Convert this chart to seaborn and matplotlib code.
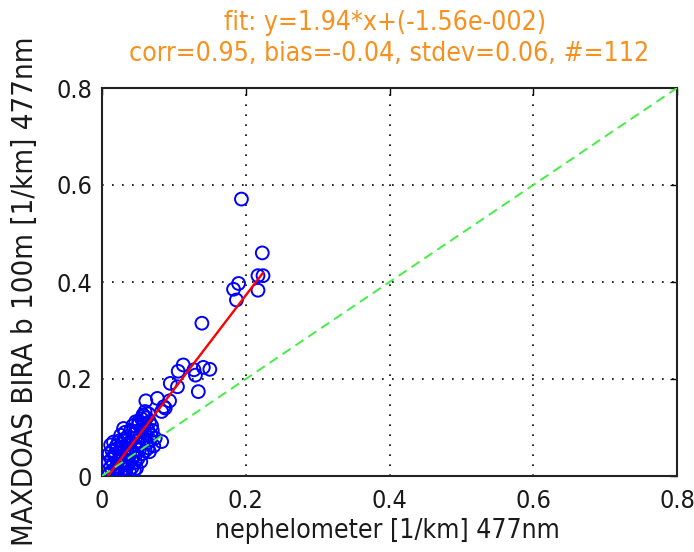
import numpy as np
import matplotlib
matplotlib.use("Agg")
import matplotlib.pyplot as plt
from matplotlib import font_manager
import seaborn as sns

# nephelometer extinction (x) vs MAXDOAS BIRA extinction at 100 m (y), 1/km at 477 nm
neph = [
    0.194, 0.223, 0.217, 0.224, 0.217, 0.190, 0.183, 0.187, 0.139,
    0.113, 0.106, 0.128, 0.141, 0.150, 0.130, 0.095, 0.105, 0.134,
    0.061, 0.077, 0.094, 0.086, 0.060, 0.083, 0.057, 0.088,
    0.051, 0.030, 0.083, 0.074, 0.048, 0.034, 0.032, 0.018,
    0.010, 0.014, 0.018, 0.022, 0.026, 0.038, 0.042, 0.012, 0.020, 0.030,
    0.009, 0.013, 0.016, 0.022, 0.025, 0.028, 0.033, 0.037, 0.041, 0.046, 0.050, 0.054,
    0.010, 0.014, 0.017, 0.021, 0.024, 0.027, 0.031, 0.035, 0.038, 0.043, 0.047, 0.052,
    0.056, 0.060, 0.064,
    0.012, 0.016, 0.020, 0.023, 0.027, 0.031, 0.034, 0.039, 0.043, 0.046, 0.050, 0.055,
    0.059, 0.063, 0.067,
    0.026, 0.032, 0.036, 0.040, 0.044, 0.048, 0.052, 0.056, 0.060, 0.064, 0.068,
    0.043, 0.047, 0.051, 0.055, 0.059, 0.062, 0.066, 0.069, 0.065, 0.058,
    0.070, 0.072, 0.066, 0.045, 0.019,
]
maxdoas = [
    0.571, 0.460, 0.413, 0.413, 0.383, 0.397, 0.385, 0.363, 0.315,
    0.229, 0.216, 0.219, 0.224, 0.220, 0.208, 0.191, 0.184, 0.174,
    0.155, 0.160, 0.155, 0.143, 0.133, 0.133, 0.126, 0.140,
    0.112, 0.098, 0.071, 0.078, 0.016, 0.016, 0.002, 0.040,
    0.004, 0.010, 0.006, 0.012, 0.008, 0.010, 0.018, 0.018, 0.020, 0.022,
    0.028, 0.034, 0.026, 0.030, 0.036, 0.027, 0.032, 0.026, 0.034, 0.028, 0.036, 0.030,
    0.046, 0.052, 0.044, 0.056, 0.048, 0.042, 0.054, 0.046, 0.058, 0.050, 0.044, 0.054,
    0.046, 0.052, 0.058,
    0.064, 0.070, 0.062, 0.072, 0.066, 0.076, 0.064, 0.070, 0.078, 0.064, 0.072, 0.066,
    0.076, 0.068, 0.074,
    0.084, 0.090, 0.082, 0.094, 0.086, 0.092, 0.082, 0.096, 0.088, 0.094, 0.084,
    0.104, 0.112, 0.106, 0.118, 0.108, 0.120, 0.112, 0.104, 0.128, 0.124,
    0.094, 0.062, 0.050, 0.012, 0.014,
]

# linear fit parameters and statistics shown in the title
fit_slope = 1.94
fit_offset = -1.56e-2
fit_x = [min(neph), max(neph)]
fit_y = [fit_slope * v + fit_offset for v in fit_x]
one_to_one = [0.0, 0.8]

title_lines = [
    "fit: y=1.94*x+(-1.56e-002)",
    "corr=0.95, bias=-0.04, stdev=0.06, #=112",
]
ticks = [0, 0.2, 0.4, 0.6, 0.8]
tick_labels = ["0", "0.2", "0.4", "0.6", "0.8"]

sns.set_style("white")

# prefer a narrow sans face when one is installed
fonts = font_manager.fontManager.ttflist
names = {f.name for f in fonts}
if "Liberation Sans Narrow" in names:
    plt.rcParams["font.family"] = ["Liberation Sans Narrow", "DejaVu Sans"]
    size_scale = 1.15
elif any(f.name == "DejaVu Sans" and f.stretch == "condensed" for f in fonts):
    plt.rcParams["font.family"] = ["DejaVu Sans", "Liberation Sans"]
    plt.rcParams["font.stretch"] = "condensed"
    size_scale = 0.98
else:
    plt.rcParams["font.family"] = ["Liberation Sans", "DejaVu Sans"]
    size_scale = 1.0

W, H = 694, 552
fig = plt.figure(figsize=(W / 100, H / 100), dpi=100)
ax = fig.add_axes([102 / W, 1 - 476 / H, 575 / W, 388 / H])

sns.scatterplot(x=neph, y=maxdoas, ax=ax, marker="o", s=85,
                facecolors="none", edgecolor="#0000ff", linewidth=1.4,
                zorder=3, legend=False)
ax.collections[-1].set_facecolor("none")
ax.collections[-1].set_edgecolor("#0000ff")

sns.lineplot(x=fit_x, y=fit_y, ax=ax, color="#ff0000", linewidth=1.7, zorder=4)
sns.lineplot(x=one_to_one, y=one_to_one, ax=ax, color="#44ee44",
             linewidth=1.4, zorder=5)
ax.lines[-1].set_linestyle((0, (5, 3)))

ax.set_xlim(0, 0.8)
ax.set_ylim(0, 0.8)
ax.set_xticks(ticks)
ax.set_yticks(ticks)
ax.set_xticklabels(tick_labels)
ax.set_yticklabels(tick_labels)
ax.tick_params(direction="in", length=5, width=1.0, colors="black",
               labelcolor="#1a1a1a", labelsize=18.5 * size_scale,
               top=True, right=True)
ax.tick_params(axis="x", pad=9)
ax.tick_params(axis="y", pad=7)
ax.grid(True, color="black", linestyle=(0, (1, 5)), linewidth=1.2)
for sp in ax.spines.values():
    sp.set_color("#222222")
    sp.set_linewidth(1.5)
    sp.set_visible(True)

ax.set_xlabel("")
ax.set_ylabel("")
fig.text(387 / W, 1 - 531 / H, "nephelometer [1/km] 477nm",
         fontsize=19.5 * size_scale, color="#1a1a1a", ha="center", va="center")
fig.text(25 / W, 1 - 291 / H, "MAXDOAS BIRA b 100m [1/km] 477nm",
         fontsize=21.5 * size_scale, color="#1a1a1a", ha="center", va="center",
         rotation=90)
fig.text(385 / W, 1 - 23 / H, title_lines[0], color="#f7901e",
         fontsize=19.5 * size_scale, ha="center", va="center")
fig.text(389 / W, 1 - 54 / H, title_lines[1], color="#f7901e",
         fontsize=19.5 * size_scale, ha="center", va="center")

fig.savefig("out.png", dpi=100, facecolor="white")
